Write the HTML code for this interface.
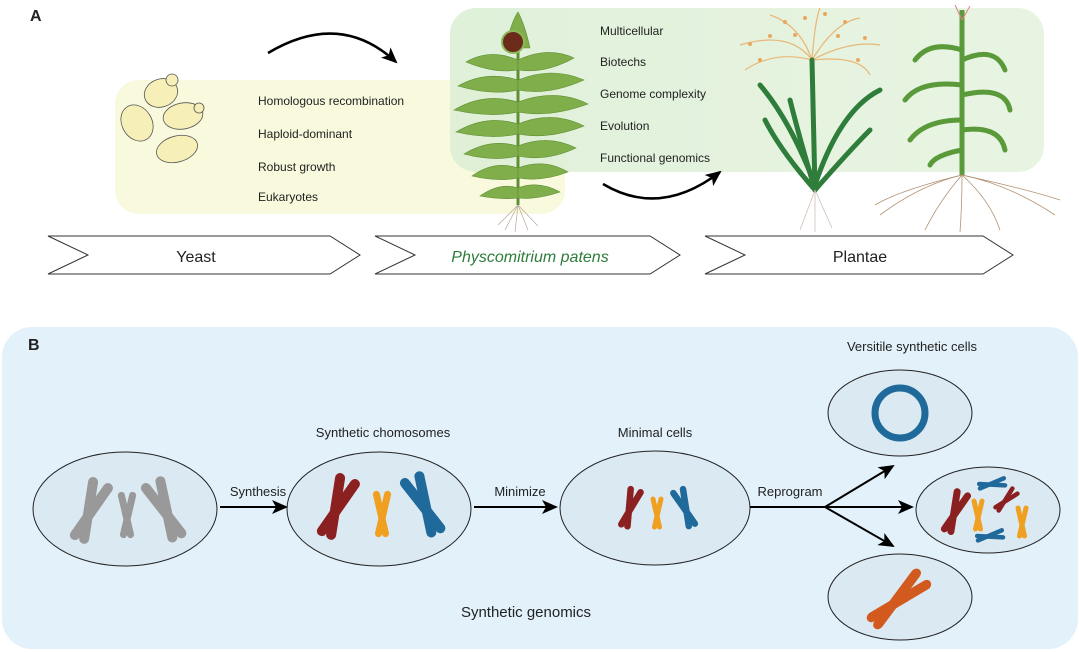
<!DOCTYPE html>
<html><head><meta charset="utf-8"><style>
html,body{margin:0;padding:0;background:#fff;}
svg{display:block;font-family:"Liberation Sans",Arial,sans-serif;}
</style></head><body>
<svg width="1080" height="652" viewBox="0 0 1080 652" xmlns="http://www.w3.org/2000/svg">
<defs>
<marker id="ah2" markerWidth="16" markerHeight="14" refX="14" refY="7" orient="auto" markerUnits="userSpaceOnUse"><path d="M0,0 L16,7 L0,14 L4,7 Z" fill="#000"/></marker>
<linearGradient id="gg" x1="0" y1="0" x2="1" y2="0"><stop offset="0" stop-color="#dcefd6"/><stop offset="1" stop-color="#e6f3df"/></linearGradient>
<g id="chr"><line x1="-8" y1="-28" x2="5" y2="28" stroke-width="10" stroke-linecap="round"/><line x1="8" y1="-28" x2="-5" y2="28" stroke-width="10" stroke-linecap="round"/></g>
</defs>

<text x="30" y="21" font-size="16" font-weight="bold" fill="#222">A</text>
<rect x="115" y="80" width="450" height="134" rx="24" fill="#f8f9dd"/>
<rect x="450" y="8" width="594" height="164" rx="26" fill="url(#gg)" opacity="0.9"/>
<path d="M268,53 Q340,10 396,62" fill="none" stroke="#000" stroke-width="2.5" marker-end="url(#ah2)"/>
<path d="M603,184 Q660,218 720,172" fill="none" stroke="#000" stroke-width="2.5" marker-end="url(#ah2)"/>

<g fill="#f6f0b8" stroke="#555" stroke-width="0.8">
<ellipse cx="161" cy="93" rx="17" ry="14" transform="rotate(-20 161 93)"/><circle cx="172" cy="80" r="6"/>
<ellipse cx="137" cy="123" rx="15" ry="19" transform="rotate(-30 137 123)"/>
<ellipse cx="183" cy="116" rx="20" ry="13" transform="rotate(-10 183 116)"/><circle cx="199" cy="108" r="5"/>
<ellipse cx="177" cy="149" rx="21" ry="13" transform="rotate(-15 177 149)"/>
</g>
<g font-size="12" fill="#222">
<text x="258" y="105">Homologous recombination</text>
<text x="258" y="138">Haploid-dominant</text>
<text x="258" y="171">Robust growth</text>
<text x="258" y="201">Eukaryotes</text>
<text x="600" y="35">Multicellular</text>
<text x="600" y="66">Biotechs</text>
<text x="600" y="98">Genome complexity</text>
<text x="600" y="130">Evolution</text>
<text x="600" y="162">Functional genomics</text>
</g>

<g>
<line x1="518" y1="45" x2="518" y2="205" stroke="#5f8f32" stroke-width="3"/>
<g fill="#7fae4a" stroke="#5f8f32" stroke-width="0.6">
<path d="M518,60 Q490,48 466,62 Q495,74 518,70Z"/><path d="M518,60 Q548,46 574,58 Q545,74 518,70Z"/>
<path d="M518,80 Q486,70 458,86 Q492,96 518,90Z"/><path d="M518,80 Q552,66 584,80 Q548,96 518,90Z"/>
<path d="M518,102 Q484,92 454,110 Q490,118 518,112Z"/><path d="M518,102 Q556,88 588,104 Q550,118 518,112Z"/>
<path d="M518,124 Q486,114 456,132 Q492,140 518,134Z"/><path d="M518,124 Q552,110 584,126 Q548,140 518,134Z"/>
<path d="M518,146 Q490,138 464,154 Q494,162 518,156Z"/><path d="M518,146 Q548,134 576,148 Q546,162 518,156Z"/>
<path d="M518,168 Q494,160 472,176 Q498,182 518,178Z"/><path d="M518,168 Q544,158 568,172 Q542,182 518,178Z"/>
<path d="M518,188 Q500,182 480,196 Q502,200 518,198Z"/><path d="M518,188 Q538,180 560,192 Q536,200 518,198Z"/>
<path d="M505,48 Q512,20 518,12 Q525,25 530,48 Z"/>
</g>
<circle cx="513" cy="42" r="11" fill="#6b2a1a" stroke="#8cb85a" stroke-width="2"/>
<g stroke="#b8a8a0" stroke-width="0.7"><line x1="518" y1="205" x2="505" y2="230"/><line x1="518" y1="205" x2="515" y2="232"/><line x1="518" y1="205" x2="528" y2="230"/><line x1="518" y1="205" x2="538" y2="226"/><line x1="518" y1="205" x2="498" y2="225"/></g>
</g>

<g>
<g stroke="#e8b878" stroke-width="1.2" fill="none">
<path d="M812,60 Q790,30 740,45"/><path d="M812,60 Q800,25 770,15"/><path d="M812,60 Q815,20 820,8"/><path d="M812,60 Q835,22 860,18"/><path d="M812,60 Q850,40 880,45"/><path d="M812,60 Q775,50 745,70"/><path d="M812,60 Q860,55 870,75"/>
</g>
<g fill="#e8a860"><circle cx="750" cy="44" r="2"/><circle cx="770" cy="36" r="2"/><circle cx="785" cy="22" r="2"/><circle cx="805" cy="18" r="2"/><circle cx="825" cy="14" r="2"/><circle cx="845" cy="22" r="2"/><circle cx="865" cy="38" r="2"/><circle cx="760" cy="60" r="2"/><circle cx="858" cy="60" r="2"/><circle cx="795" cy="35" r="2"/><circle cx="838" cy="36" r="2"/></g>
<g stroke="#2e7d3a" stroke-width="5" fill="none" stroke-linecap="round">
<path d="M815,190 L812,60"/><path d="M815,185 Q790,120 760,85"/><path d="M815,185 Q840,110 880,90"/><path d="M815,190 Q780,150 765,120"/><path d="M815,190 Q850,150 870,130"/><path d="M815,190 Q800,140 790,100"/>
</g>
<g stroke="#c8b8b0" stroke-width="0.7"><line x1="815" y1="190" x2="800" y2="230"/><line x1="815" y1="190" x2="815" y2="232"/><line x1="815" y1="190" x2="832" y2="228"/></g>
</g>

<g>
<line x1="962" y1="10" x2="962" y2="175" stroke="#5a9a3a" stroke-width="5"/>
<g stroke="#e08080" stroke-width="1"><line x1="962" y1="20" x2="955" y2="5"/><line x1="962" y1="20" x2="970" y2="6"/></g>
<g stroke="#5a9a3a" stroke-width="5" fill="none" stroke-linecap="round">
<path d="M962,50 Q930,40 915,60"/><path d="M962,60 Q995,45 1005,70"/><path d="M962,85 Q920,80 905,100"/><path d="M962,95 Q1005,85 1010,110"/><path d="M962,120 Q925,120 910,140"/><path d="M962,130 Q1000,125 1005,150"/><path d="M962,150 Q935,155 930,165"/>
</g>
<g stroke="#b09070" stroke-width="0.8" fill="none">
<path d="M962,175 Q920,185 880,215"/><path d="M962,175 Q940,200 925,230"/><path d="M962,175 Q962,205 960,232"/><path d="M962,175 Q990,200 1000,230"/><path d="M962,175 Q1010,185 1055,215"/><path d="M962,175 Q900,190 875,205"/><path d="M962,175 Q1030,190 1060,200"/>
</g>
</g>

<g fill="#fff" stroke="#333" stroke-width="1">
<path d="M48,236 L330,236 L360,255 L330,274 L48,274 L88,255 Z"/>
<path d="M375,236 L650,236 L680,255 L650,274 L375,274 L415,255 Z"/>
<path d="M705,236 L983,236 L1013,255 L983,274 L705,274 L745,255 Z"/>
</g>
<text x="196" y="262" font-size="16" text-anchor="middle" fill="#222">Yeast</text>
<text x="530" y="262" font-size="16" text-anchor="middle" fill="#2e7d3a" font-style="italic">Physcomitrium patens</text>
<text x="860" y="262" font-size="16" text-anchor="middle" fill="#222">Plantae</text>

<rect x="2" y="327" width="1076" height="322" rx="30" fill="#e3f1fa"/>
<text x="28" y="350" font-size="16" font-weight="bold" fill="#222">B</text>
<g fill="#dbe9f3" stroke="#222" stroke-width="1">
<ellipse cx="125" cy="509" rx="92" ry="57"/>
<ellipse cx="379" cy="509" rx="92" ry="57"/>
<ellipse cx="655" cy="508" rx="95" ry="57"/>
<ellipse cx="900" cy="413" rx="72" ry="43"/>
<ellipse cx="988" cy="510" rx="72" ry="43"/>
<ellipse cx="900" cy="597" rx="72" ry="43"/>
</g>
<g font-size="13" fill="#222">
<text x="258" y="496" text-anchor="middle">Synthesis</text>
<text x="520" y="496" text-anchor="middle">Minimize</text>
<text x="790" y="496" text-anchor="middle">Reprogram</text>
<text x="383" y="437" text-anchor="middle">Synthetic chomosomes</text>
<text x="655" y="437" text-anchor="middle">Minimal cells</text>
<text x="912" y="351" text-anchor="middle">Versitile synthetic cells</text>
</g>
<text x="526" y="617" font-size="15" text-anchor="middle" fill="#222">Synthetic genomics</text>
<g stroke="#000" stroke-width="2" fill="none">
<line x1="220" y1="507" x2="286" y2="507" marker-end="url(#ah2)"/>
<line x1="474" y1="507" x2="556" y2="507" marker-end="url(#ah2)"/>
<line x1="750" y1="507" x2="912" y2="507" marker-end="url(#ah2)"/>
<line x1="825" y1="507" x2="893" y2="466" marker-end="url(#ah2)"/>
<line x1="825" y1="507" x2="893" y2="546" marker-end="url(#ah2)"/>
</g>

<g stroke="#999">
<use href="#chr" transform="translate(90,511) rotate(22)"/>
<use href="#chr" transform="translate(127,515) scale(0.7)"/>
<use href="#chr" transform="translate(165,510) rotate(-25)"/>
</g>
<use href="#chr" stroke="#8b2020" transform="translate(337,507) rotate(22)"/>
<use href="#chr" stroke="#f0a020" transform="translate(382,514) scale(0.7)"/>
<use href="#chr" stroke="#1f6a9a" transform="translate(424,505) rotate(-25)"/>
<use href="#chr" stroke="#8b2020" transform="translate(630,508) rotate(18) scale(0.65)"/>
<use href="#chr" stroke="#f0a020" transform="translate(657,513) scale(0.5)"/>
<use href="#chr" stroke="#1f6a9a" transform="translate(685,508) rotate(-22) scale(0.65)"/>
<circle cx="900" cy="413" r="25" fill="none" stroke="#1f6a9a" stroke-width="7"/>
<use href="#chr" stroke="#8b2020" transform="translate(955,512) rotate(22) scale(0.7)"/>
<use href="#chr" stroke="#f0a020" transform="translate(978,515) scale(0.5)"/>
<use href="#chr" stroke="#8b2020" transform="translate(1006,500) rotate(45) scale(0.45)"/>
<use href="#chr" stroke="#f0a020" transform="translate(1022,522) scale(0.5)"/>
<use href="#chr" stroke="#1f6a9a" transform="translate(992,484) rotate(80) scale(0.45)"/>
<use href="#chr" stroke="#1f6a9a" transform="translate(990,536) rotate(80) scale(0.45)"/>
<use href="#chr" stroke="#d25a1e" transform="translate(898,600) rotate(48) scale(0.95,1.1)"/>
</svg>
</body></html>
